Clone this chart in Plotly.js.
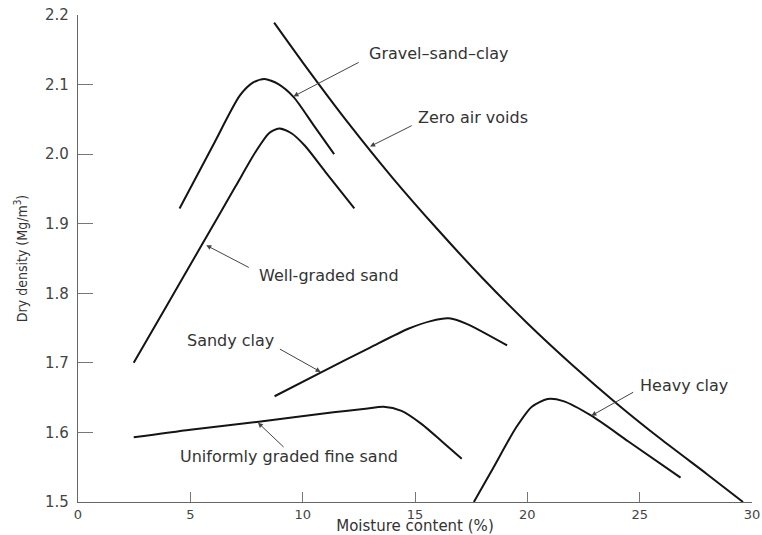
<!DOCTYPE html>
<html>
<head>
<meta charset="utf-8">
<script src="https://cdn.plot.ly/plotly-3.0.1.min.js"></script>
<style>
  html, body { margin: 0; padding: 0; background: #fff; }
  #chart { width: 762px; height: 535px; }
</style>
</head>
<body>
<div id="chart"></div>
<script>
// ---- Data ----
var zeroAirX = [8.73, 10, 12, 14, 16, 18, 20, 22, 24, 26, 28, 29.6];
var zeroAirY = [2.189, 2.132, 2.046, 1.966, 1.892, 1.822, 1.757, 1.697, 1.641, 1.589, 1.540, 1.50];

var gravelX = [4.52, 6.0, 7.2, 7.8, 8.3, 8.9, 9.6, 10.5, 11.4];
var gravelY = [1.922, 2.012, 2.084, 2.103, 2.108, 2.101, 2.082, 2.041, 2.0];

var wellX = [2.48, 4.0, 5.5, 7.0, 7.9, 8.5, 8.95, 9.5, 10.1, 11.0, 12.3];
var wellY = [1.70, 1.785, 1.869, 1.953, 2.003, 2.030, 2.037, 2.030, 2.012, 1.975, 1.922];

var sandyClayX = [8.75, 10.8, 13.0, 14.7, 15.7, 16.5, 17.3, 19.1];
var sandyClayY = [1.652, 1.686, 1.722, 1.749, 1.760, 1.764, 1.756, 1.725];

var uniformX = [2.48, 5.0, 7.96, 11.37, 12.8, 13.6, 14.4, 15.3, 16.2, 17.08];
var uniformY = [1.593, 1.604, 1.615, 1.629, 1.634, 1.637, 1.631, 1.612, 1.587, 1.562];

var heavyClayX = [17.62, 18.5, 19.5, 20.2, 20.9, 21.6, 22.85, 24.5, 26.82];
var heavyClayY = [1.5, 1.55, 1.607, 1.637, 1.648, 1.645, 1.624, 1.587, 1.535];

var curveNames = ["Zero air voids", "Gravel\u2013sand\u2013clay", "Well-graded sand",
                  "Sandy clay", "Uniformly graded fine sand", "Heavy clay"];
var xTitle = 'Moisture content (%)';
var yTitle = 'Dry density (Mg/m<sup>3</sup>)';
var xTickVals = [0, 5, 10, 15, 20, 25, 30];
var yTickVals = [1.5, 1.6, 1.7, 1.8, 1.9, 2.0, 2.1, 2.2];

// ---- Build traces ----
var seriesX = [zeroAirX, gravelX, wellX, sandyClayX, uniformX, heavyClayX];
var seriesY = [zeroAirY, gravelY, wellY, sandyClayY, uniformY, heavyClayY];
var traces = seriesX.map(function (xs, i) {
  return {
    x: xs, y: seriesY[i], name: curveNames[i],
    type: 'scatter', mode: 'lines',
    line: {color: '#141414', width: 2, shape: 'spline', smoothing: 0.7},
    hoverinfo: 'x+y+name'
  };
});

var textFont = {family: 'DejaVu Sans, Verdana, sans-serif', size: 16, color: '#333'};

// label positions and arrow tips/tails (data coordinates)
var labels = [
  {t: curveNames[1], x: 16.07, y: 2.145, tip: [9.59, 2.083], tail: [12.56, 2.133]},
  {t: curveNames[0], x: 17.56, y: 2.053, tip: [13.0, 2.011], tail: [14.92, 2.042]},
  {t: curveNames[2], x: 11.16, y: 1.825, tip: [5.71, 1.869], tail: [7.67, 1.836]},
  {t: curveNames[3], x: 6.78, y: 1.732, tip: [10.8, 1.687], tail: [8.92, 1.721]},
  {t: curveNames[4], x: 9.37, y: 1.566, tip: [8.01, 1.614], tail: [9.22, 1.577]},
  {t: curveNames[5], x: 26.96, y: 1.667, tip: [22.85, 1.624], tail: [24.78, 1.659]}
];

var annotations = [];
labels.forEach(function (l) {
  annotations.push({
    text: l.t, x: l.x, y: l.y, xref: 'x', yref: 'y',
    showarrow: false, font: textFont, xanchor: 'center', yanchor: 'middle'
  });
  annotations.push({
    text: '', x: l.tip[0], y: l.tip[1], xref: 'x', yref: 'y',
    ax: l.tail[0], ay: l.tail[1], axref: 'x', ayref: 'y',
    showarrow: true, arrowhead: 2, arrowsize: 1, arrowwidth: 1,
    arrowcolor: '#444', standoff: 0, startstandoff: 0
  });
});

var layout = {
  width: 762, height: 535,
  margin: {l: 78, r: 10, t: 15, b: 33, pad: 0},
  paper_bgcolor: '#ffffff', plot_bgcolor: '#ffffff',
  showlegend: false,
  font: {family: 'DejaVu Sans, Verdana, sans-serif', color: '#333'},
  xaxis: {
    range: [0, 30], tickvals: xTickVals, ticktext: xTickVals.map(String),
    ticks: 'inside', ticklen: 10, tickwidth: 1, tickcolor: '#777',
    showline: true, linecolor: '#666', linewidth: 1.2,
    showgrid: false, zeroline: false, automargin: false,
    tickfont: {family: 'DejaVu Sans, Verdana, sans-serif', size: 13, color: '#444'},
    title: {text: xTitle, standoff: 10,
            font: {family: 'DejaVu Sans, Verdana, sans-serif', size: 15, color: '#333'}}
  },
  yaxis: {
    range: [1.5, 2.2], tickvals: yTickVals, ticktext: yTickVals.map(function (v) { return v.toFixed(1); }),
    ticks: 'inside', ticklen: 15, tickwidth: 1, tickcolor: '#777',
    showline: true, linecolor: '#666', linewidth: 1.2,
    showgrid: false, zeroline: false, automargin: false,
    ticklabelstandoff: 5,
    tickfont: {family: 'DejaVu Sans, Verdana, sans-serif', size: 15, color: '#444'},
    title: {text: yTitle, standoff: 14,
            font: {family: 'Liberation Sans Narrow, DejaVu Sans Condensed, Arial Narrow, sans-serif', size: 14, color: '#333'}}
  },
  annotations: annotations
};

Plotly.newPlot('chart', traces, layout, {displayModeBar: false, staticPlot: false});
</script>
</body>
</html>
